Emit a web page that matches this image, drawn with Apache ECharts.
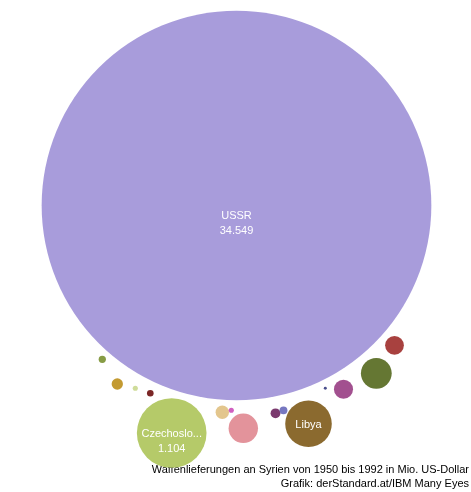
<!DOCTYPE html>
<html>
<head>
<meta charset="utf-8">
<script src="https://cdn.jsdelivr.net/npm/echarts@6/dist/echarts.min.js"></script>
<style>
  html, body { margin: 0; padding: 0; background: #fff; }
  #chart { width: 471px; height: 492px; }
</style>
</head>
<body>
<div id="chart"></div>
<script>
// Waffenlieferungen an Syrien 1950-1992, Mio. US-Dollar
var countries = ['USSR', 'Czechoslovakia', 'Libya', 'France', 'Poland', 'UK', 'Italy', 'Egypt',
                 'FRG', 'Iran', 'North Korea', 'Yugoslavia', 'Romania', 'Bulgaria', 'Austria', 'Hungary'];
var amounts = [34549, 1104, 494, 216, 197, 83, 80, 41, 29, 22, 14, 12, 10, 6, 6, 2];
// bubble layout (packed) positions
var bubbleX = [236.5, 171.7, 308.5, 376.3, 243.3, 343.5, 394.5, 222.3, 117.3, 275.5, 283.5, 102.3, 150.3, 231.3, 135.3, 325.3];
var bubbleY = [205.5, 433, 423.8, 373.3, 428.3, 389.3, 345.3, 412.3, 384, 413.3, 410.3, 359.3, 393.3, 410.3, 388.3, 388.3];
var footerLines = ['Waffenlieferungen an Syrien von 1950 bis 1992 in Mio. US-Dollar',
                   'Grafik: derStandard.at/IBM Many Eyes'];

var colors = ['#a89cdb', '#b5ca69', '#8b6a2f', '#657733', '#e3939b', '#a2508f', '#a8413f', '#e3c68d',
              '#c39a31', '#7b3a6e', '#7677c0', '#879c45', '#7b2626', '#d05fc0', '#cfdc9a', '#4a4f8c'];
// where the name line sits below the bubble centre
var nameShift = { 'USSR': 10, 'Czechoslovakia': 1, 'Libya': 1 };

function bubbleSize(v) {
  return 66.3 * Math.sqrt(v / 1000);
}
function fmtDe(v) {
  return String(v).replace(/\B(?=(\d{3})+(?!\d))/g, '.');
}

var data = countries.map(function (name, i) {
  var d = bubbleSize(amounts[i]);
  var twoLines = d >= 60;
  var shift = nameShift[name] || 0;
  return {
    name: name,
    value: [bubbleX[i], bubbleY[i], amounts[i]],
    itemStyle: { color: colors[i], opacity: 1 },
    label: {
      show: d >= 40,
      width: d * 0.92,
      offset: [0, shift + (twoLines ? 7.5 : 0)],
      formatter: twoLines ? '{b}\n' + fmtDe(amounts[i]) : '{b}'
    }
  };
});

var chart = echarts.init(document.getElementById('chart'));
chart.setOption({
  animation: false,
  grid: { left: 0, right: 0, top: 0, bottom: 0 },
  xAxis: { type: 'value', min: 0, max: 471, show: false },
  yAxis: { type: 'value', min: 0, max: 492, inverse: true, show: false },
  series: [{
    type: 'scatter',
    symbol: 'circle',
    symbolSize: function (val) { return bubbleSize(val[2]); },
    data: data,
    label: {
      position: 'inside',
      color: '#fff',
      fontFamily: 'Liberation Sans, Arial, sans-serif',
      fontSize: 11,
      lineHeight: 15,
      overflow: 'truncate',
      ellipsis: '...'
    },
    emphasis: { disabled: true }
  }],
  graphic: footerLines.map(function (t, i) {
    return {
      type: 'text',
      right: 2,
      top: 464 + i * 14,
      style: {
        text: t,
        font: '11px "Liberation Sans", Arial, sans-serif',
        fill: '#000'
      }
    };
  })
});
</script>
</body>
</html>
